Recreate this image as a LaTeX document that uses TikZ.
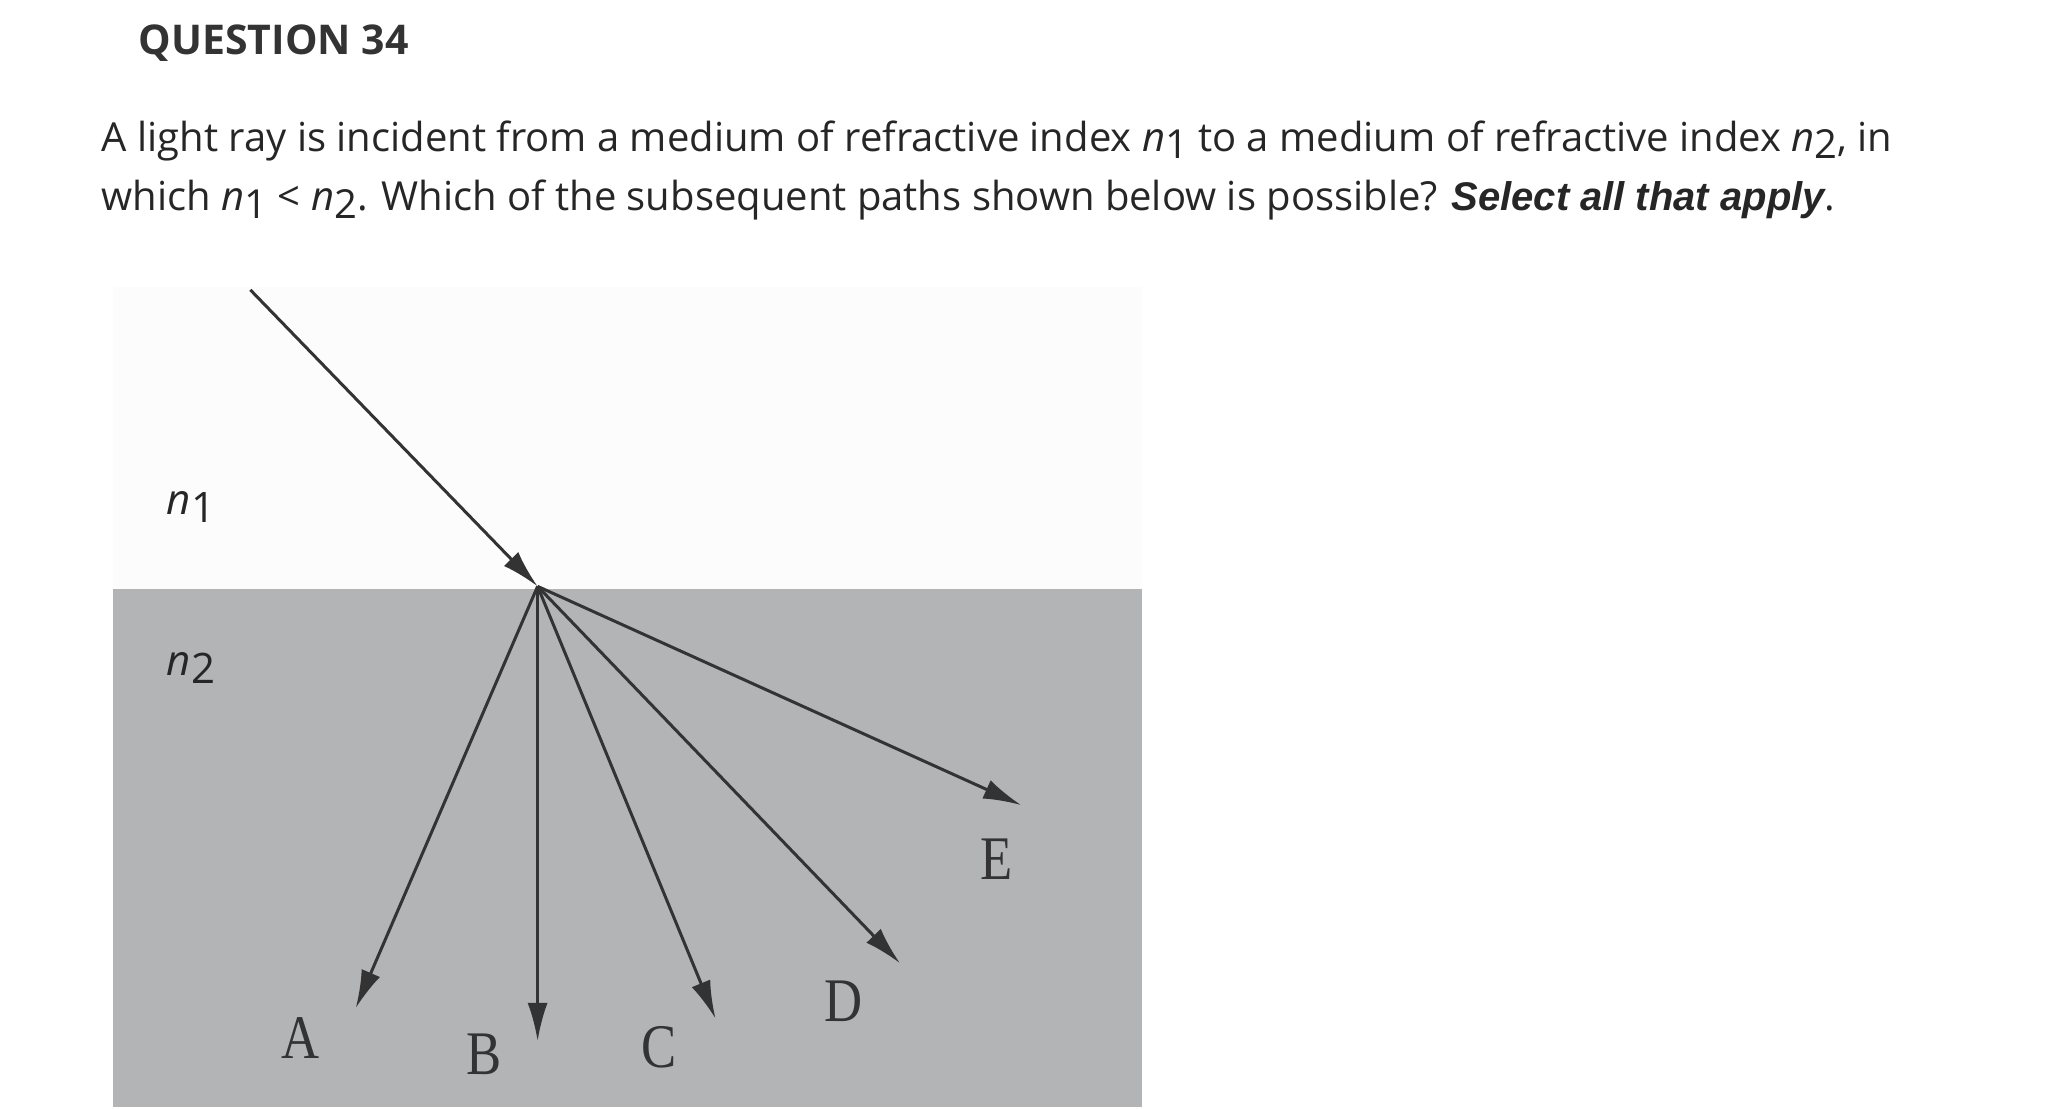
\documentclass[tikz,border=0pt]{standalone}
\usetikzlibrary{arrows.meta}
\usepackage{fontspec}
\setmainfont{Open Sans}
\newfontfamily\arialf{Liberation Sans}
\newfontfamily\serf{Liberation Serif}
\newcommand{\nsub}[1]{\textit{n}\raisebox{-0.35ex}{#1}}
\definecolor{grayfill}{HTML}{B3B4B6}
\begin{document}
\begin{tikzpicture}[x=0.6589pt,y=-0.6589pt,
  ray/.style={draw=black!80, line width=1.5pt, -{Latex[length=19pt,width=10pt]}},
  lab/.style={font=\fontsize{31}{31}\serf, text=black!80, inner sep=0pt, xscale=0.85},
  nlab/.style={font=\fontsize{21}{21}\selectfont, text=black!85, inner sep=0pt}]
\useasboundingbox (0,0) rectangle (1552,841.6);
\node[anchor=west, font=\fontsize{20.5}{20.5}\selectfont\bfseries, text=black!80, inner sep=0pt] (title) at (105,33) {QUESTION 34};
\node[anchor=west, font=\fontsize{20}{20}\selectfont, text=black!85, inner sep=0pt] (l1) at (77,107) {A light ray is incident from a medium of refractive index \nsub{1} to a medium of refractive index \nsub{2}, in};
\node[anchor=west, font=\fontsize{20}{20}\selectfont, text=black!85, inner sep=0pt] (l2) at (77,152) {which \nsub{1} < \nsub{2}. Which of the subsequent paths shown below is possible? {\arialf\bfseries\itshape Select all that apply}.};
\fill[black!1] (86,218) rectangle (867,447);
\fill[grayfill] (86,447) rectangle (867,840);
\coordinate (s) at (190,220);
\coordinate (o) at (408,445);
\coordinate (a) at (270,765);
\coordinate (b) at (408,790);
\coordinate (c) at (543,773);
\coordinate (d) at (683,731);
\coordinate (e) at (775,611);
\draw[ray] (s) -- (o);
\foreach \p in {a,b,c,d,e} \draw[ray] (o) -- (\p);
\node[nlab] (n1) at (145,385) {\nsub{1}};
\node[nlab] (n2) at (145,507) {\nsub{2}};
\node[lab] (la) at (228,788) {A};
\node[lab] (lb) at (367,800) {B};
\node[lab] (lc) at (500,795) {C};
\node[lab] (ld) at (640,760) {D};
\node[lab] (le) at (756,652) {E};
\end{tikzpicture}
\end{document}
